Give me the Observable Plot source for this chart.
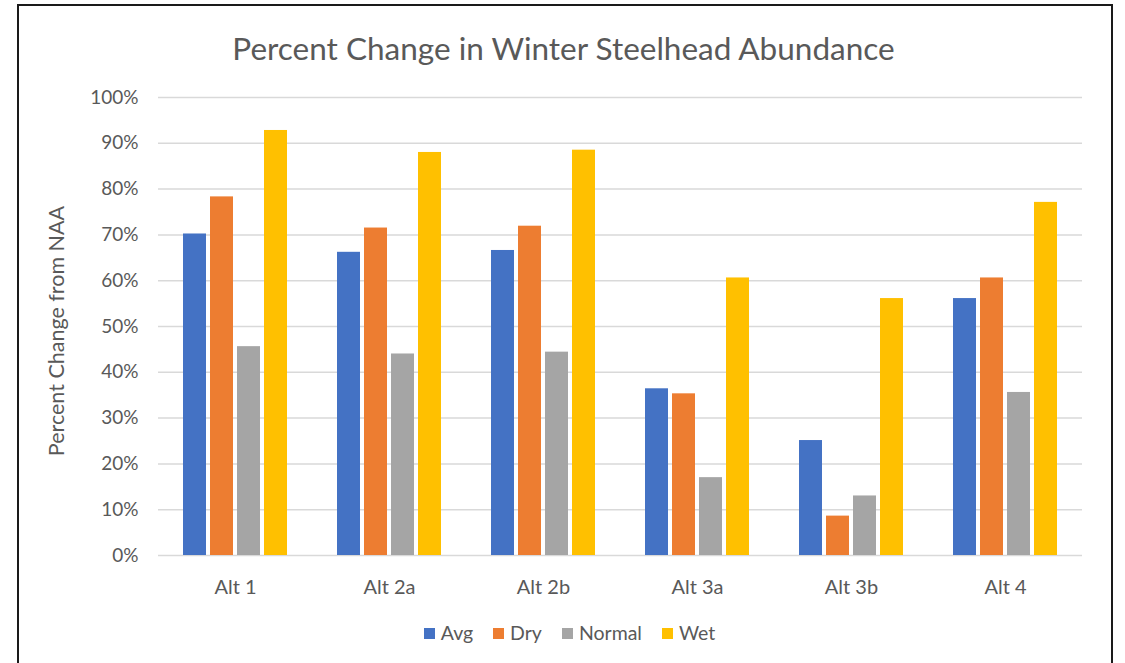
<!DOCTYPE html>
<html><head><meta charset="utf-8">
<script src="https://cdn.jsdelivr.net/npm/d3@7"></script>
<script src="https://cdn.jsdelivr.net/npm/@observablehq/plot@0.6"></script>
<style>
body{margin:0;background:#fff;}
#wrap{position:relative;width:1125px;height:663px;overflow:hidden;font-family:Lato, sans-serif;background:#fff;}
#frame{position:absolute;left:17px;top:4px;width:1096px;height:690px;border:2px solid #1a1a1a;box-sizing:border-box;}
#title{position:absolute;left:0;width:1127px;top:29px;text-align:center;font-size:31.5px;color:#595959;line-height:38px;}
#ylabel{position:absolute;left:56px;top:331px;transform:translate(-50%,-50%) rotate(-90deg);white-space:nowrap;font-size:21.5px;color:#595959;}
#chart{position:absolute;left:0;top:0;}
#legend{position:absolute;left:0;width:1139px;top:621px;display:flex;justify-content:center;gap:20px;font-size:19.5px;color:#595959;line-height:24px;}
#legend .item{display:flex;align-items:center;gap:6px;}
#legend .sw{width:11px;height:11px;display:inline-block;}
</style></head>
<body>
<div id="wrap">
  <div id="frame"></div>
  <div id="chart"></div>
  <div id="title">Percent Change in Winter Steelhead Abundance</div>
  <div id="ylabel">Percent Change from NAA</div>
  <div id="legend"></div>
</div>
<script>
const categories = ["Alt 1","Alt 2a","Alt 2b","Alt 3a","Alt 3b","Alt 4"];
const series = ["Avg","Dry","Normal","Wet"];
const avg    = [0.702,0.662,0.666,0.364,0.251,0.561];
const dry    = [0.783,0.715,0.719,0.353,0.086,0.606];
const normal = [0.456,0.440,0.444,0.170,0.130,0.356];
const wet    = [0.928,0.880,0.885,0.606,0.561,0.771];
const colors = ["#4472C4","#ED7D31","#A5A5A5","#FFC000"];
const yTicks = [0,0.1,0.2,0.3,0.4,0.5,0.6,0.7,0.8,0.9,1];
const yTickLabels = ["0%","10%","20%","30%","40%","50%","60%","70%","80%","90%","100%"];

const valuesBySeries = [avg, dry, normal, wet];
const data = categories.flatMap((c, i) => series.map((s, j) => ({category: c, series: s, value: valuesBySeries[j][i]})));

const chart = Plot.plot({
  width: 1125, height: 600,
  marginLeft: 157, marginRight: 42, marginTop: 97, marginBottom: 45,
  style: {fontFamily: "Lato, sans-serif", color: "#595959", background: "transparent"},
  fx: {domain: categories, paddingInner: 0, paddingOuter: 0, label: null, axis: null},
  x: {domain: series, axis: null, paddingInner: 0.15, paddingOuter: 0.83},
  y: {domain: [0, 1], axis: null},
  color: {domain: series, range: colors},
  marks: [
    Plot.gridY(yTicks, {stroke: "#d9d9d9", strokeOpacity: 1, strokeWidth: 1.5}),
    Plot.barY(data, {fx: "category", x: "series", y: "value", fill: "series"}),
    Plot.axisY(yTicks, {tickSize: 0, tickPadding: 20, fontSize: 19, fill: "#595959", label: null,
      tickFormat: (d) => yTickLabels[yTicks.indexOf(d)]}),
    Plot.axisFx({anchor: "bottom", tickSize: 0, tickPadding: 24, fontSize: 20, fill: "#595959", label: null})
  ]
});
document.getElementById("chart").appendChild(chart);

const legend = document.getElementById("legend");
series.forEach((s, i) => {
  const item = document.createElement("div");
  item.className = "item";
  const sw = document.createElement("span");
  sw.className = "sw";
  sw.style.background = colors[i];
  const t = document.createElement("span");
  t.textContent = s;
  item.appendChild(sw); item.appendChild(t);
  legend.appendChild(item);
});
</script>
</body></html>
